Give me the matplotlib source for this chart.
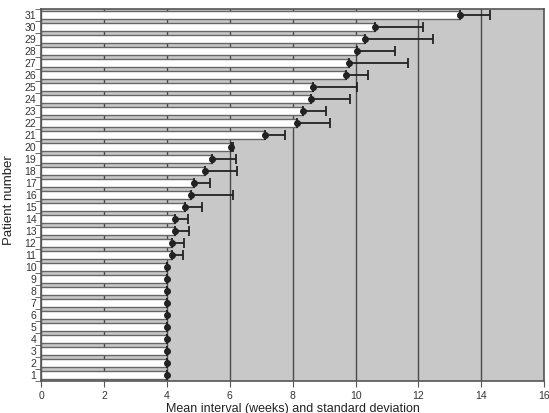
import matplotlib.pyplot as plt
import numpy as np

plt.rcParams['font.family'] = ['Liberation Sans', 'DejaVu Sans']

# Patient numbers 1..31
patients = list(range(1, 32))

# Mean interval (weeks) per patient
mean_weeks = [4.0, 4.0, 4.0, 4.0, 4.0, 4.0, 4.0, 4.0, 4.0, 4.0,
              4.15, 4.17, 4.27, 4.27, 4.58, 4.75, 4.86, 5.21, 5.42, 6.05,
              7.13, 8.13, 8.34, 8.58, 8.66, 9.68, 9.80, 10.04, 10.31, 10.63,
              13.31]

# Standard deviation (weeks)
sd_weeks = [0.0, 0.0, 0.0, 0.0, 0.0, 0.0, 0.0, 0.0, 0.0, 0.0,
            0.36, 0.37, 0.42, 0.41, 0.52, 1.35, 0.52, 1.01, 0.77, 0.05,
            0.61, 1.04, 0.73, 1.25, 1.38, 0.73, 1.88, 1.22, 2.16, 1.53,
            0.96]

x_ticks = [0, 2, 4, 6, 8, 10, 12, 14, 16]

fig = plt.figure(figsize=(5.49, 4.13), dpi=100)
ax = fig.add_axes([0.0752, 0.078, 0.916, 0.9])
ax.set_facecolor('#c8c8c8')

ax.set_axisbelow(True)
ax.grid(axis='x', color='#4a4a4a', linewidth=1.0)

ax.barh(patients, mean_weeks, height=0.62, color='white',
        edgecolor='#666666', linewidth=1.0, zorder=2)
ax.errorbar(mean_weeks, patients, xerr=[np.zeros(len(sd_weeks)), sd_weeks],
            fmt='o', color='#222222', markersize=4, elinewidth=1.3,
            capsize=3.5, capthick=1.3, zorder=3)

ax.set_xlim(0, 16)
ax.set_ylim(0.62, 31.47)
ax.set_xticks(x_ticks)
ax.set_yticks(patients)
ax.set_yticks(np.arange(0.5, 31.6, 1), minor=True)
ax.tick_params(axis='y', which='major', length=0, labelsize=7.5, pad=3.5,
               labelcolor='#333333')
ax.tick_params(axis='y', which='minor', length=4, color='#555555')
ax.tick_params(axis='x', length=4, labelsize=7.5, color='#555555',
               labelcolor='#333333')

for s in ax.spines.values():
    s.set_color('#555555')
    s.set_linewidth(1.2)

ax.set_ylabel('Patient number', fontsize=9.5, color='#222222')
ax.yaxis.set_label_coords(-0.053, 0.487)
ax.set_xlabel('Mean interval (weeks) and standard deviation', fontsize=9,
              color='#222222')
ax.xaxis.set_label_coords(0.5, -0.06)

fig.savefig('out.png', dpi=100)
